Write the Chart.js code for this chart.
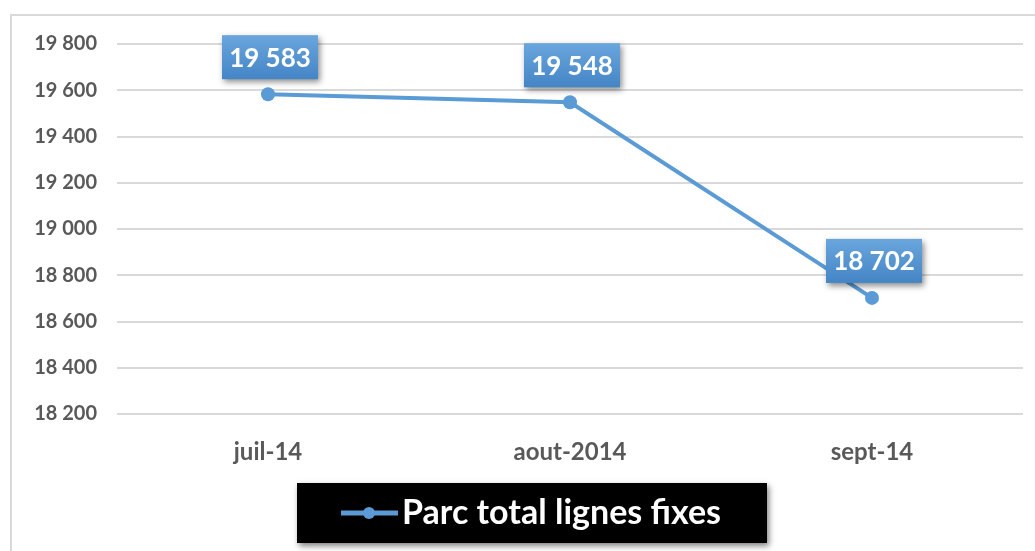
<!DOCTYPE html>
<html>
<head>
<meta charset="utf-8">
<script src="https://cdn.jsdelivr.net/npm/chart.js@4"></script>
<style>
  html, body { margin: 0; padding: 0; background: #fff; }
  #wrap { width: 1035px; height: 551px; position: relative; }
</style>
</head>
<body>
<div id="wrap"><canvas id="chart" width="1035" height="551"></canvas></div>
<script>
const months = ['juil-14', 'aout-2014', 'sept-14'];
const parcValues = [19583, 19548, 18702];
const seriesName = 'Parc total lignes fixes';
const yMin = 18200;
const yMax = 19800;
const yStep = 200;

const FONT = 'Lato, "Open Sans", sans-serif';
const BLUE = '#5b9bd5';

const fmt = v => String(v).replace(/\B(?=(\d{3})+(?!\d))/g, ' ');

// frame around the chart (left + top edges visible)
const framePlugin = {
  id: 'frame',
  beforeDraw(chart) {
    const ctx = chart.ctx;
    ctx.save();
    ctx.strokeStyle = '#d9d9d9';
    ctx.lineWidth = 2;
    ctx.beginPath();
    ctx.moveTo(11, 560);
    ctx.lineTo(11, 15);
    ctx.lineTo(1040, 15);
    ctx.stroke();
    ctx.restore();
  }
};

// blue boxes with the values above each point
const valueBoxes = {
  id: 'valueBoxes',
  afterDatasetsDraw(chart) {
    const ctx = chart.ctx;
    const meta = chart.getDatasetMeta(0);
    ctx.save();
    ctx.font = 'bold 26px ' + FONT;
    ctx.textAlign = 'center';
    ctx.textBaseline = 'middle';
    meta.data.forEach((pt, i) => {
      const txt = fmt(chart.data.datasets[0].data[i]);
      const w = 96, h = 44;
      const cx = pt.x + 2;
      const x = cx - w / 2;
      const y = pt.y - 15 - h;
      ctx.save();
      ctx.shadowColor = 'rgba(0,0,0,0.45)';
      ctx.shadowBlur = 6;
      ctx.shadowOffsetX = 2;
      ctx.shadowOffsetY = 3;
      const g = ctx.createLinearGradient(0, y, 0, y + h);
      g.addColorStop(0, '#6aa6dd');
      g.addColorStop(1, '#4485c6');
      ctx.fillStyle = g;
      ctx.fillRect(x, y, w, h);
      ctx.restore();
      ctx.fillStyle = '#fff';
      ctx.fillText(txt, cx, y + h / 2 + 1);
    });
    ctx.restore();
  }
};

// black legend box under the axis
const legendBox = {
  id: 'legendBox',
  afterDraw(chart) {
    const ctx = chart.ctx;
    const x = 297, y = 483, w = 470, h = 60;
    ctx.save();
    ctx.shadowColor = 'rgba(0,0,0,0.5)';
    ctx.shadowBlur = 6;
    ctx.shadowOffsetX = 2;
    ctx.shadowOffsetY = 3;
    ctx.fillStyle = '#000';
    ctx.fillRect(x, y, w, h);
    ctx.restore();

    ctx.save();
    const my = y + 30;
    ctx.strokeStyle = BLUE;
    ctx.lineWidth = 5;
    ctx.beginPath();
    ctx.moveTo(341, my);
    ctx.lineTo(398, my);
    ctx.stroke();
    ctx.fillStyle = BLUE;
    ctx.beginPath();
    ctx.arc(369, my, 6, 0, Math.PI * 2);
    ctx.fill();
    ctx.fillStyle = '#fff';
    ctx.font = 'bold 34px ' + FONT;
    ctx.textAlign = 'left';
    ctx.textBaseline = 'middle';
    ctx.fillText(chart.data.datasets[0].label, 402, my);
    ctx.restore();
  }
};

new Chart(document.getElementById('chart'), {
  type: 'line',
  data: {
    labels: months,
    datasets: [{
      label: seriesName,
      data: parcValues,
      borderColor: BLUE,
      backgroundColor: BLUE,
      borderWidth: 4,
      pointRadius: 7,
      pointHoverRadius: 7,
      pointBackgroundColor: BLUE,
      pointBorderWidth: 0,
      tension: 0
    }]
  },
  options: {
    responsive: false,
    animation: false,
    events: [],
    layout: { padding: { left: 0, right: 12, top: 44, bottom: 0 } },
    plugins: {
      legend: { display: false },
      tooltip: { enabled: false }
    },
    scales: {
      x: {
        offset: true,
        grid: { display: false, drawTicks: false },
        border: { display: false },
        ticks: {
          color: '#595959',
          font: { family: FONT, size: 24, weight: 'bold' },
          padding: 24
        },
        afterFit(s) { s.height = 137; }
      },
      y: {
        min: yMin,
        max: yMax,
        grid: { color: '#d9d9d9', lineWidth: 2, drawTicks: false },
        border: { display: false },
        ticks: {
          stepSize: yStep,
          color: '#595959',
          font: { family: FONT, size: 20, weight: 'bold' },
          padding: 20,
          callback: v => fmt(v)
        },
        afterFit(s) { s.width = 117; }
      }
    }
  },
  plugins: [framePlugin, valueBoxes, legendBox]
});
</script>
</body>
</html>
